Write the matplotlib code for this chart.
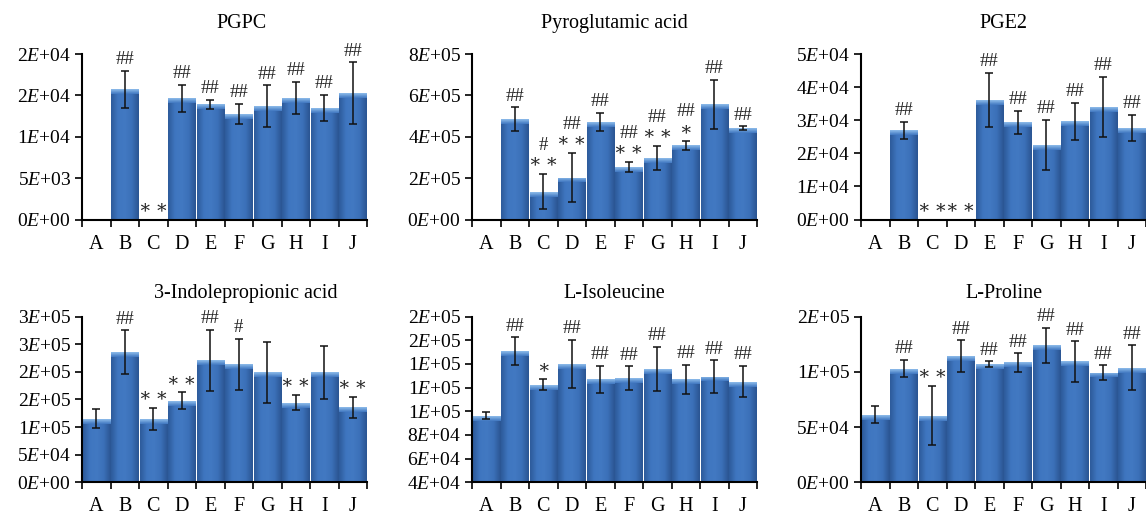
import numpy as np
import matplotlib
matplotlib.use("Agg")
import matplotlib.pyplot as plt
from matplotlib.colors import LinearSegmentedColormap
from matplotlib.ticker import FixedLocator, FuncFormatter

# ==========================================
# DATA
# ==========================================
groups = ["A", "B", "C", "D", "E", "F", "G", "H", "I", "J"]

titles = ["PGPC", "Pyroglutamic acid", "PGE2",
          "3-Indolepropionic acid", "L-Isoleucine", "L-Proline"]

pgpc_mean = [0, 15730, 0, 14640, 13950, 12740, 13710, 14680, 13470, 15280]
pgpc_err = [0, 2250, 0, 1600, 550, 1200, 2500, 1930, 1570, 3700]
pgpc_sig = ["", "##", "**", "##", "##", "##", "##", "##", "##", "##"]

pyro_mean = [0, 485e3, 135e3, 203e3, 471e3, 253e3, 297e3, 358e3, 556e3, 442e3]
pyro_err = [0, 57e3, 84e3, 118e3, 45e3, 25e3, 58e3, 22e3, 119e3, 8e3]
pyro_sig = ["", "##", "#\n**", "##\n**", "##", "##\n**", "##\n**", "##\n*", "##", "##"]

pge2_mean = [0, 27.0e3, 0, 0, 36.1e3, 29.4e3, 22.6e3, 29.7e3, 33.9e3, 27.7e3]
pge2_err = [0, 2.6e3, 0, 0, 8.1e3, 3.5e3, 7.5e3, 5.6e3, 9.1e3, 4.0e3]
pge2_sig = ["", "##", "**", "**", "##", "##", "##", "##", "##", "##"]

ipa_mean = [115e3, 236e3, 115e3, 148e3, 221e3, 214e3, 199e3, 144e3, 199e3, 136e3]
ipa_err = [17e3, 39e3, 20e3, 15e3, 55e3, 46e3, 56e3, 14e3, 48e3, 19e3]
ipa_sig = ["", "##", "**", "**", "##", "#", "", "**", "", "**"]

ile_mean = [96.3e3, 150.9e3, 122.6e3, 139.8e3, 127.1e3, 128.0e3, 135.9e3, 127.1e3, 129.4e3, 125.1e3]
ile_err = [3e3, 11.6e3, 5e3, 20.4e3, 11.3e3, 10e3, 18.7e3, 12.2e3, 13.6e3, 13.3e3]
ile_sig = ["", "##", "*", "##", "##", "##", "##", "##", "##", "##"]

pro_mean = [61.2e3, 103e3, 60.3e3, 114.2e3, 106.7e3, 108.5e3, 123.9e3, 109.4e3, 99.4e3, 103.9e3]
pro_err = [7.9e3, 7.6e3, 27e3, 14.3e3, 2.7e3, 8.2e3, 16e3, 18.2e3, 6.4e3, 20e3]
pro_sig = ["", "##", "**", "##", "##", "##", "##", "##", "##", "##"]

y_ticks = [
    [0, 5e3, 10e3, 15e3, 20e3],
    [0, 2e5, 4e5, 6e5, 8e5],
    [0, 1e4, 2e4, 3e4, 4e4, 5e4],
    [0, 5e4, 1e5, 1.5e5, 2e5, 2.5e5, 3e5],
    [4e4, 6e4, 8e4, 1e5, 1.2e5, 1.4e5, 1.6e5, 1.8e5],
    [0, 5e4, 1e5, 1.5e5],
]

means = [pgpc_mean, pyro_mean, pge2_mean, ipa_mean, ile_mean, pro_mean]
errs = [pgpc_err, pyro_err, pge2_err, ipa_err, ile_err, pro_err]
sigs = [pgpc_sig, pyro_sig, pge2_sig, ipa_sig, ile_sig, pro_sig]

# ==========================================
# STYLE
# ==========================================
plt.rcParams["font.family"] = ["Liberation Serif", "DejaVu Serif"]
plt.rcParams["mathtext.fontset"] = "custom"
plt.rcParams["mathtext.rm"] = "Liberation Serif"
plt.rcParams["mathtext.it"] = "Liberation Serif:italic"

body_cmap = LinearSegmentedColormap.from_list(
    "body", ["#2d5b9a", "#3f76c0", "#4279c2", "#3b70b8", "#2b5592"])
cap_cmap = LinearSegmentedColormap.from_list("cap", ["#3f76c0", "#8fbdeb"])


def excel_sci(v, pos=None):
    # Excel-like "0E+00" format (round half up)
    if v == 0:
        m, e = 0, 0
    else:
        e = int(np.floor(np.log10(abs(v)) + 1e-9))
        m = int(np.floor(v / 10 ** e + 0.5))
        if m == 10:
            m, e = 1, e + 1
    return rf"${m}\mathit{{E}}$+{e:02d}"


W, H = 1146, 520
fig = plt.figure(figsize=(W / 100, H / 100), dpi=100)

lefts = [82, 472, 861]
tops = [54, 316.7]
ax_w, ax_h = 285, 165.5
title_x = [0.56, 0.5, 0.5, 0.575, 0.5, 0.5]
title_pad = [19, 19, 19, 13.5, 13.5, 13.5]

x = np.arange(len(groups))

for i in range(6):
    r, c = divmod(i, 3)
    ax = fig.add_axes([lefts[c] / W, 1 - (tops[r] + ax_h) / H, ax_w / W, ax_h / H])
    vals = np.array(means[i], dtype=float)
    e = np.array(errs[i], dtype=float)
    ymin, ymax = y_ticks[i][0], y_ticks[i][-1]
    yr = ymax - ymin

    bars = ax.bar(x, vals, width=0.95, color="#3b70b8", edgecolor="white",
                  linewidth=0.8, zorder=2)
    grad = np.linspace(0, 1, 64).reshape(1, -1)
    vgrad = np.linspace(1, 0, 16).reshape(-1, 1)
    for b, v in zip(bars, vals):
        if v <= 0:
            continue
        x0, x1 = b.get_x(), b.get_x() + b.get_width()
        im = ax.imshow(grad, cmap=body_cmap, aspect="auto", zorder=2.1,
                       extent=[x0, x1, max(0, ymin), v], interpolation="bicubic")
        im.set_clip_path(b)
        cap = ax.imshow(vgrad, cmap=cap_cmap, aspect="auto", zorder=2.2,
                        extent=[x0, x1, v - 0.03 * yr, v], interpolation="bicubic")
        cap.set_clip_path(b)

    ok = vals > 0
    ax.errorbar(x[ok], vals[ok], yerr=e[ok], fmt="none", ecolor="#111111",
                elinewidth=1.1, capsize=3.2, capthick=1.1, zorder=3)

    for xi, v, ei, s in zip(x, vals, e, sigs[i]):
        if not s:
            continue
        txt = s.replace("**", "\u2217\u2009\u2217").replace("*", "\u2217")
        ax.annotate(txt, (xi, v + ei if v > 0 else max(0, ymin)),
                    xytext=(0, 2), textcoords="offset points",
                    ha="center", va="bottom", fontsize=13.5,
                    linespacing=1.05, color="#222222", zorder=4)

    ax.set_xlim(-0.5, 9.5)
    ax.set_ylim(ymin, ymax)
    ax.yaxis.set_major_locator(FixedLocator(y_ticks[i]))
    ax.yaxis.set_major_formatter(FuncFormatter(excel_sci))
    ax.set_xticks(x)
    ax.set_xticklabels(groups)
    ax.set_xticks(np.arange(-0.5, 10, 1), minor=True)
    ax.tick_params(axis="x", which="major", length=0, pad=11, labelsize=14.5)
    ax.tick_params(axis="x", which="minor", length=5, width=1.2, direction="out")
    ax.tick_params(axis="y", length=5, width=1.2, direction="out", labelsize=14, pad=3)

    for sp in ["top", "right"]:
        ax.spines[sp].set_visible(False)
    for sp in ["left", "bottom"]:
        ax.spines[sp].set_linewidth(1.5)

    ax.set_title(titles[i], fontsize=14.5, x=title_x[i], pad=title_pad[i])

fig.savefig("out.png", dpi=100)
